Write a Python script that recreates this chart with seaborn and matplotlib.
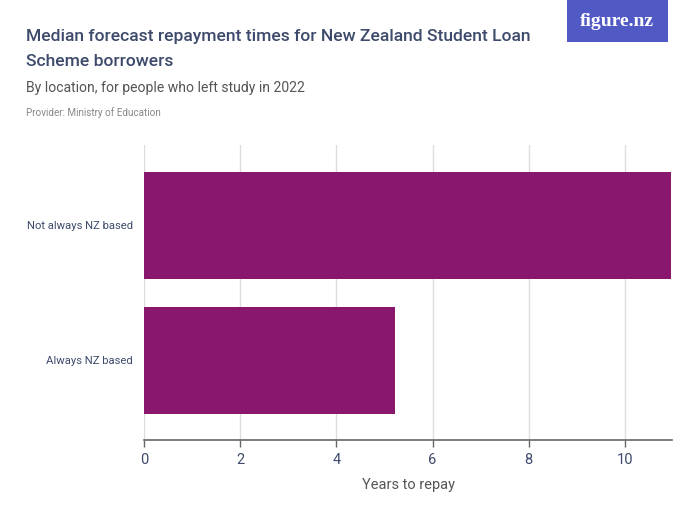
import matplotlib
matplotlib.use("Agg")
import matplotlib.pyplot as plt
import seaborn as sns
import pandas as pd
from matplotlib.patches import Rectangle

categories = ["Not always NZ based", "Always NZ based"]
values = [10.95, 5.22]
xticks = [0, 2, 4, 6, 8, 10]

sns.set_theme(style="white")
plt.rcParams['font.family'] = ['Roboto', 'DejaVu Sans']

df = pd.DataFrame({"location": categories, "years": values})

fig = plt.figure(figsize=(7, 5.25), dpi=100)
ax = fig.add_axes([144/700, 1-440/525, (672-144)/700, (440-145)/525])

sns.barplot(data=df, y="location", x="years", order=categories, color="#8A176E",
            width=0.79, saturation=1, ax=ax, zorder=3, edgecolor="none")

ax.set_xlim(0, 10.98)
ax.set_ylim(1.59, -0.596)
ax.set_xticks(xticks)
ax.xaxis.grid(True, color="#dddddd", linewidth=1, zorder=0)
ax.yaxis.grid(False)
for s in ["top", "right", "left"]:
    ax.spines[s].set_visible(False)
ax.spines["bottom"].set_color("#666666")
ax.spines["bottom"].set_linewidth(1.2)
ax.tick_params(axis="x", bottom=True, length=5, width=1, color="#666666",
               labelsize=10.5, labelcolor="#3d4a6b", pad=4)
ax.tick_params(axis="y", left=False, length=0, labelsize=8.1, labelcolor="#3d4a6b", pad=8)
ax.set_ylabel("")
ax.set_xlabel("Years to repay", fontsize=10.5, color="#555555", labelpad=8)

fig.text(26/700, 1-36/525, "Median forecast repayment times for New Zealand Student Loan",
         fontsize=12.6, color="#3d4a6b", va="center", ha="left", fontweight="medium")
fig.text(26/700, 1-62/525, "Scheme borrowers",
         fontsize=12.6, color="#3d4a6b", va="center", ha="left", fontweight="medium")
fig.text(26/700, 1-88/525, "By location, for people who left study in 2022",
         fontsize=10.1, color="#555555", va="center", ha="left")
fig.text(26/700, 1-113/525, "Provider: Ministry of Education",
         fontsize=7.1, color="#888888", va="center", ha="left")

fig.patches.append(Rectangle((567/700, 1-42/525), (668-567)/700, 42/525,
                             transform=fig.transFigure, facecolor="#5159C4",
                             edgecolor="none"))
fig.text(617/700, 1-21/525, "figure.nz", fontsize=14, color="white", fontweight="bold",
         family=["Liberation Serif", "DejaVu Serif"], ha="center", va="center")

fig.savefig("out.png", dpi=100)
